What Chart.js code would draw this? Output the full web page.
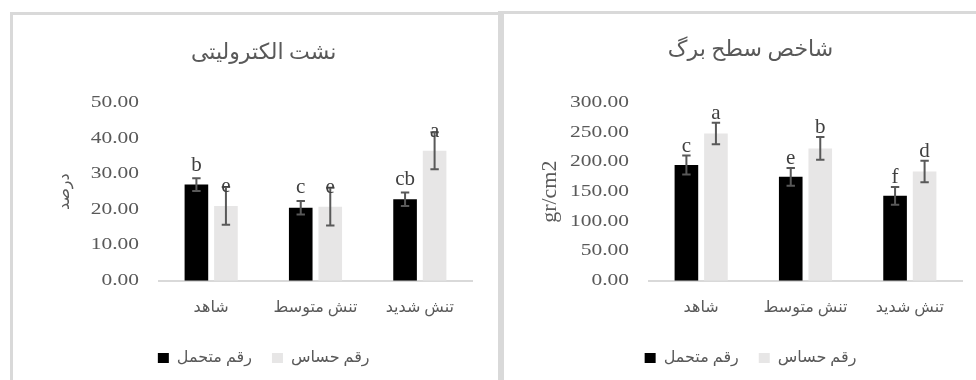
<!DOCTYPE html>
<html>
<head>
<meta charset="utf-8">
<script src="https://cdn.jsdelivr.net/npm/chart.js@4/dist/chart.umd.min.js"></script>
<style>
  html, body { margin: 0; padding: 0; background: #ffffff; width: 976px; height: 380px; overflow: hidden; }
  canvas { position: absolute; top: 0; }
  #leakCanvas { left: 13px; }
  #laiCanvas { left: 504px; }
  .frame { position: absolute; background: #d9d9d9; z-index: 2; }
</style>
</head>
<body>
<canvas id="leakCanvas" width="488" height="376"></canvas>
<canvas id="laiCanvas" width="488" height="376"></canvas>
<div class="frame" style="left:10px;top:12px;width:490px;height:3px"></div>
<div class="frame" style="left:10px;top:12px;width:3px;height:368px"></div>
<div class="frame" style="left:498px;top:11px;width:6px;height:369px"></div>
<div class="frame" style="left:498px;top:11px;width:478px;height:3px"></div>
<script>
// Treatments on the category axis
const treatments = ['شاهد', 'تنش متوسط', 'تنش شدید'];
const seriesNames = ['رقم متحمل', 'رقم حساس'];

// Electrolyte leakage (%)
const leakTolerant = [27.0, 20.5, 22.9];
const leakTolerantErr = [1.8, 1.9, 1.9];
const leakTolerantLetters = ['b', 'c', 'cb'];
const leakSensitive = [21.0, 20.8, 36.5];
const leakSensitiveErr = [5.3, 5.3, 5.2];
const leakSensitiveLetters = ['e', 'e', 'a'];
const leakTicks = [0, 10, 20, 30, 40, 50];

// Leaf area index (gr/cm2)
const laiTolerant = [195, 175, 143];
const laiTolerantErr = [16, 15, 15];
const laiTolerantLetters = ['c', 'e', 'f'];
const laiSensitive = [248, 223, 184];
const laiSensitiveErr = [18, 19, 18];
const laiSensitiveLetters = ['a', 'b', 'd'];
const laiTicks = [0, 50, 100, 150, 200, 250, 300];

const SERIF = "'Liberation Serif', 'DejaVu Sans', serif";
const NUMERALS = "AxisNumerals, 'Liberation Serif', serif";
const TEXT = '#595959';

// Axis numerals use a horizontally widened serif face
const wideNumerals = {
  id: 'wideNumerals',
  beforeDraw(chart) {
    const ctx = chart.ctx;
    if (ctx.__wide) return;
    ctx.__wide = true;
    const fill = ctx.fillText;
    ctx.fillText = function (text, x, y, maxWidth) {
      if (this.font.indexOf('AxisNumerals') === -1) return fill.call(this, text, x, y, maxWidth);
      this.save();
      this.translate(x, y);
      this.scale(1.3, 1);
      fill.call(this, text, 0, 0);
      this.restore();
    };
  }
};

// Error bars with significance letters above each bar
const errorBars = {
  id: 'errorBars',
  afterDatasetsDraw(chart) {
    const { ctx } = chart;
    const y = chart.scales.y;
    chart.data.datasets.forEach((ds, i) => {
      const meta = chart.getDatasetMeta(i);
      meta.data.forEach((bar, j) => {
        const v = ds.data[j], e = ds.errors[j];
        const top = y.getPixelForValue(v + e);
        const bot = y.getPixelForValue(v - e);
        const cap = 4.2;
        ctx.save();
        ctx.strokeStyle = '#595959';
        ctx.lineWidth = 2;
        ctx.beginPath();
        ctx.moveTo(bar.x, top); ctx.lineTo(bar.x, bot);
        ctx.moveTo(bar.x - cap, top); ctx.lineTo(bar.x + cap, top);
        ctx.moveTo(bar.x - cap, bot); ctx.lineTo(bar.x + cap, bot);
        ctx.stroke();
        ctx.fillStyle = '#404040';
        ctx.font = '21px ' + SERIF;
        ctx.textAlign = 'center';
        ctx.textBaseline = 'alphabetic';
        ctx.fillText(ds.letters[j], bar.x, top - ds.letterLift);
        ctx.restore();
      });
    });
  }
};

function makeChart(id, cfg) {
  return new Chart(document.getElementById(id), {
    type: 'bar',
    data: {
      labels: treatments,
      datasets: [
        { label: seriesNames[0], data: cfg.tolerant, errors: cfg.tolerantErr, letters: cfg.tolerantLetters,
          letterLift: cfg.liftTolerant, backgroundColor: '#000000', borderWidth: 0,
          categoryPercentage: 0.566, barPercentage: 0.8 },
        { label: seriesNames[1], data: cfg.sensitive, errors: cfg.sensitiveErr, letters: cfg.sensitiveLetters,
          letterLift: cfg.liftSensitive, backgroundColor: '#e7e6e6', borderWidth: 0,
          categoryPercentage: 0.566, barPercentage: 0.8 }
      ]
    },
    options: {
      responsive: false,
      animation: false,
      devicePixelRatio: 1,
      layout: { padding: { left: cfg.padLeft, right: cfg.padRight, top: 0, bottom: 0 } },
      plugins: {
        title: {
          display: true, text: cfg.title, color: TEXT,
          font: { family: SERIF, size: 22, weight: 'normal', lineHeight: 1.2 },
          padding: { top: cfg.titleTop, bottom: 102.7 - cfg.titleTop - 26.4 }
        },
        legend: {
          position: 'bottom',
          labels: { boxWidth: 11, boxHeight: 10, padding: 20, color: TEXT,
                    font: { family: SERIF, size: 16 } }
        },
        tooltip: { enabled: false }
      },
      scales: {
        x: {
          grid: { display: false, drawTicks: false },
          border: { display: true, color: '#d9d9d9', width: 2 },
          ticks: { color: TEXT, padding: 17.7, font: { family: SERIF, size: 16, lineHeight: 1.2 } },
          afterFit(s) { s.height = 49.3; }
        },
        y: {
          min: cfg.ticks[0], max: cfg.ticks[cfg.ticks.length - 1],
          grid: { display: false, drawTicks: false },
          border: { display: false },
          afterBuildTicks(s) { s.ticks = cfg.ticks.map(v => ({ value: v })); },
          ticks: { color: TEXT, padding: 20, font: { family: NUMERALS, size: 16.5 },
                   callback: v => Number(v).toFixed(2) },
          title: { display: true, text: cfg.yTitle, color: TEXT, padding: 0,
                   font: { family: SERIF, size: cfg.yTitleSize, lineHeight: cfg.yTitleLH } },
          afterFit(s) { s.width = cfg.axisWidth; }
        }
      }
    },
    plugins: [wideNumerals, errorBars]
  });
}

makeChart('leakCanvas', {
  title: 'نشت الکترولیتی', titleTop: 39.8, yTitle: 'درصد', yTitleSize: 16, yTitleLH: 1.2,
  tolerant: leakTolerant, tolerantErr: leakTolerantErr, tolerantLetters: leakTolerantLetters,
  sensitive: leakSensitive, sensitiveErr: leakSensitiveErr, sensitiveLetters: leakSensitiveLetters,
  liftTolerant: 7.5, liftSensitive: -5, ticks: leakTicks,
  padLeft: 42.4, padRight: 29, axisWidth: 103.6
});

makeChart('laiCanvas', {
  title: 'شاخص سطح برگ', titleTop: 36.8, yTitle: 'gr/cm2', yTitleSize: 22, yTitleLH: 1.0,
  tolerant: laiTolerant, tolerantErr: laiTolerantErr, tolerantLetters: laiTolerantLetters,
  sensitive: laiSensitive, sensitiveErr: laiSensitiveErr, sensitiveLetters: laiSensitiveLetters,
  liftTolerant: 4, liftSensitive: 4, ticks: laiTicks,
  padLeft: 35, padRight: 30, axisWidth: 110
});
</script>
</body>
</html>
